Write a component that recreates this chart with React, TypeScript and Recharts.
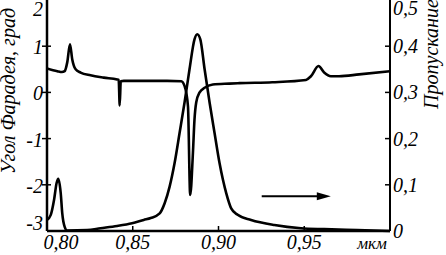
import { LineChart, Line, XAxis, YAxis, ReferenceLine } from "recharts";

// Faraday rotation angle, degrees (left axis)
const faradayWl = [
  0.8, 0.806, 0.8087, 0.8103, 0.8118, 0.8134, 0.8147, 0.8167, 0.8196, 0.8254, 0.8331, 0.8409, 0.8418,
  0.8424, 0.843, 0.8448, 0.8564, 0.87, 0.8783, 0.8802, 0.8822, 0.8835, 0.8851, 0.886, 0.887, 0.889,
  0.8919, 0.8967, 0.9064, 0.9122, 0.9314, 0.951, 0.9539, 0.9583, 0.9616, 0.9655, 0.9703, 0.982, 1.0,
];
const faradayVal = [
  0.52, 0.46, 0.44, 0.46, 0.65, 1.04, 0.72, 0.5, 0.43, 0.37, 0.32, 0.28, 0.27,
  -0.28, 0.24, 0.25, 0.25, 0.25, 0.24, 0.14, -0.3, -2.22, -1.3, -0.59, -0.22, 0.0,
  0.1, 0.17, 0.19, 0.2, 0.22, 0.27, 0.35, 0.57, 0.43, 0.35, 0.35, 0.39, 0.46,
];

// transmission (right axis)
const transWl = [
  0.8, 0.8022, 0.8041, 0.8056, 0.8066, 0.808, 0.8089, 0.8103, 0.8118, 0.8234, 0.8312, 0.8409, 0.8496,
  0.8564, 0.8605, 0.8657, 0.8686, 0.8715, 0.8744, 0.8773, 0.8802, 0.8831, 0.886, 0.8876, 0.8894, 0.8919,
  0.8948, 0.8977, 0.9006, 0.9045, 0.9074, 0.9112, 0.919, 0.9326, 0.9481, 0.9616, 0.9808, 1.0,
];
const transVal = [
  0.024, 0.035, 0.067, 0.104, 0.113, 0.082, 0.038, 0.009, 0.001, 0.002, 0.006, 0.011, 0.017,
  0.024, 0.028, 0.038, 0.06, 0.096, 0.147, 0.212, 0.278, 0.35, 0.415, 0.426, 0.415, 0.35,
  0.278, 0.212, 0.147, 0.082, 0.049, 0.035, 0.024, 0.013, 0.006, 0.004, 0.002, 0.0,
];

const xTicks = [0.8, 0.85, 0.9, 0.95, 1.0];
const leftTicks = [-3, -2, -1, 0, 1, 2];
const rightTicks = [0, 0.1, 0.2, 0.3, 0.4, 0.5];
const arrowX = [0.9252, 0.9655];
const arrowY = -2.25;

const faraday = faradayWl.map((w, i) => ({ w, v: faradayVal[i] }));
const trans = transWl.map((w, i) => ({ w, v: transVal[i] }));

const FONT = "'Liberation Serif', 'Times New Roman', 'DejaVu Serif', serif";

function T(props: any) {
  const { size = 19, children, ...rest } = props;
  return (
    <text {...rest} fill="#000" fontFamily={FONT} fontStyle="italic" fontSize={size}>
      {children}
    </text>
  );
}

function BottomTick(p: any) {
  const { x, y, payload } = p;
  const v = payload.value;
  let label = v.toFixed(2).replace(".", ",");
  let tx = x;
  if (v <= 0.8001) tx = x + 14;
  if (v >= 0.9999) { label = "мкм"; tx = x - 18; }
  const inner = v > 0.8001 && v < 0.9999;
  return (
    <g>
      {inner && <line x1={x} y1={y} x2={x} y2={y - 5} stroke="#000" strokeWidth={1.5} />}
      <T x={tx} y={y + 18} textAnchor="middle" size={label === "мкм" ? 17 : 20}>{label}</T>
    </g>
  );
}

function TopTick(p: any) {
  const { x, y } = p;
  return <line x1={x} y1={y} x2={x} y2={y + 5} stroke="#000" strokeWidth={1.5} />;
}

function LeftTick(p: any) {
  const { x, y, payload } = p;
  const v = payload.value;
  let dy = 8;
  if (v === 2) dy = 16;
  if (v === -3) dy = -1;
  const label = v < 0 ? "-" + Math.abs(v) : String(v);
  return (
    <g>
      {v !== 2 && v !== -3 && <line x1={x - 5} y1={y} x2={x + 4} y2={y} stroke="#000" strokeWidth={1.5} />}
      <T x={x - 4} y={y + dy} textAnchor="end" size={20}>{label}</T>
    </g>
  );
}

function RightTick(p: any) {
  const { x, y, payload } = p;
  const v = payload.value;
  let dy = 7;
  if (v === 0.5) dy = 15;
  const label = v === 0 ? "0" : v.toFixed(1).replace(".", ",");
  return (
    <g>
      {v !== 0 && v !== 0.5 && <line x1={x - 5} y1={y} x2={x} y2={y} stroke="#000" strokeWidth={1.5} />}
      <T x={x + 3} y={y + dy} textAnchor="start" size={20}>{label}</T>
    </g>
  );
}

function Arrow(p: any) {
  const { x1, y1, x2, y2 } = p;
  return (
    <g>
      <line x1={x1} y1={y1} x2={x2 - 10} y2={y2} stroke="#000" strokeWidth={2} />
      <polygon points={`${x2},${y2} ${x2 - 14},${y2 - 4} ${x2 - 14},${y2 + 4}`} fill="#000" />
    </g>
  );
}

export default function App() {
  return (
    <div
      style={{
        position: "absolute",
        left: 0,
        top: 0,
        width: 446,
        height: 255,
        background: "#fff",
        fontFamily: FONT,
      }}
    >
      <LineChart width={446} height={255} margin={{ top: 0, right: 0, bottom: 0, left: 0 }}>
        <XAxis
          dataKey="w"
          type="number"
          domain={[0.8, 1.0]}
          ticks={xTicks}
          height={24}
          tickSize={0}
          tickMargin={0}
          tickLine={false}
          axisLine={{ stroke: "#000", strokeWidth: 2.5 }}
          tick={BottomTick}
          interval={0}
          allowDataOverflow
        />
        <XAxis
          xAxisId="top"
          orientation="top"
          dataKey="w"
          type="number"
          domain={[0.8, 1.0]}
          ticks={[0.85, 0.9, 0.95]}
          height={0}
          tickSize={0}
          tickMargin={0}
          tickLine={false}
          axisLine={false}
          tick={TopTick}
          interval={0}
        />
        <YAxis
          yAxisId="f"
          domain={[-3, 2]}
          ticks={leftTicks}
          width={47}
          tickSize={0}
          tickMargin={0}
          tickLine={false}
          axisLine={{ stroke: "#000", strokeWidth: 2.5 }}
          tick={LeftTick}
          interval={0}
          label={{
            value: "Угол Фарадея, град",
            content: () => (
              <T x={15} y={91} transform="rotate(-90 15 91)" textAnchor="middle" size={20}>
                Угол Фарадея, град
              </T>
            ),
          }}
        />
        <YAxis
          yAxisId="t"
          orientation="right"
          domain={[0, 0.5]}
          ticks={rightTicks}
          width={56}
          tickSize={0}
          tickMargin={0}
          tickLine={false}
          axisLine={{ stroke: "#000", strokeWidth: 2 }}
          tick={RightTick}
          interval={0}
          label={{
            value: "Пропускание",
            content: () => (
              <T x={438} y={54} transform="rotate(-90 438 54)" textAnchor="middle" size={20}>
                Пропускание
              </T>
            ),
          }}
        />
        <Line
          yAxisId="f"
          data={faraday}
          dataKey="v"
          type="monotone"
          stroke="#000"
          strokeWidth={2.6}
          dot={false}
          isAnimationActive={false}
        />
        <Line
          yAxisId="t"
          data={trans}
          dataKey="v"
          type="monotone"
          stroke="#000"
          strokeWidth={2.6}
          dot={false}
          isAnimationActive={false}
        />
        <ReferenceLine
          yAxisId="f"
          segment={[{ x: arrowX[0], y: arrowY }, { x: arrowX[1], y: arrowY }]}
          shape={Arrow}
        />
      </LineChart>
    </div>
  );
}
